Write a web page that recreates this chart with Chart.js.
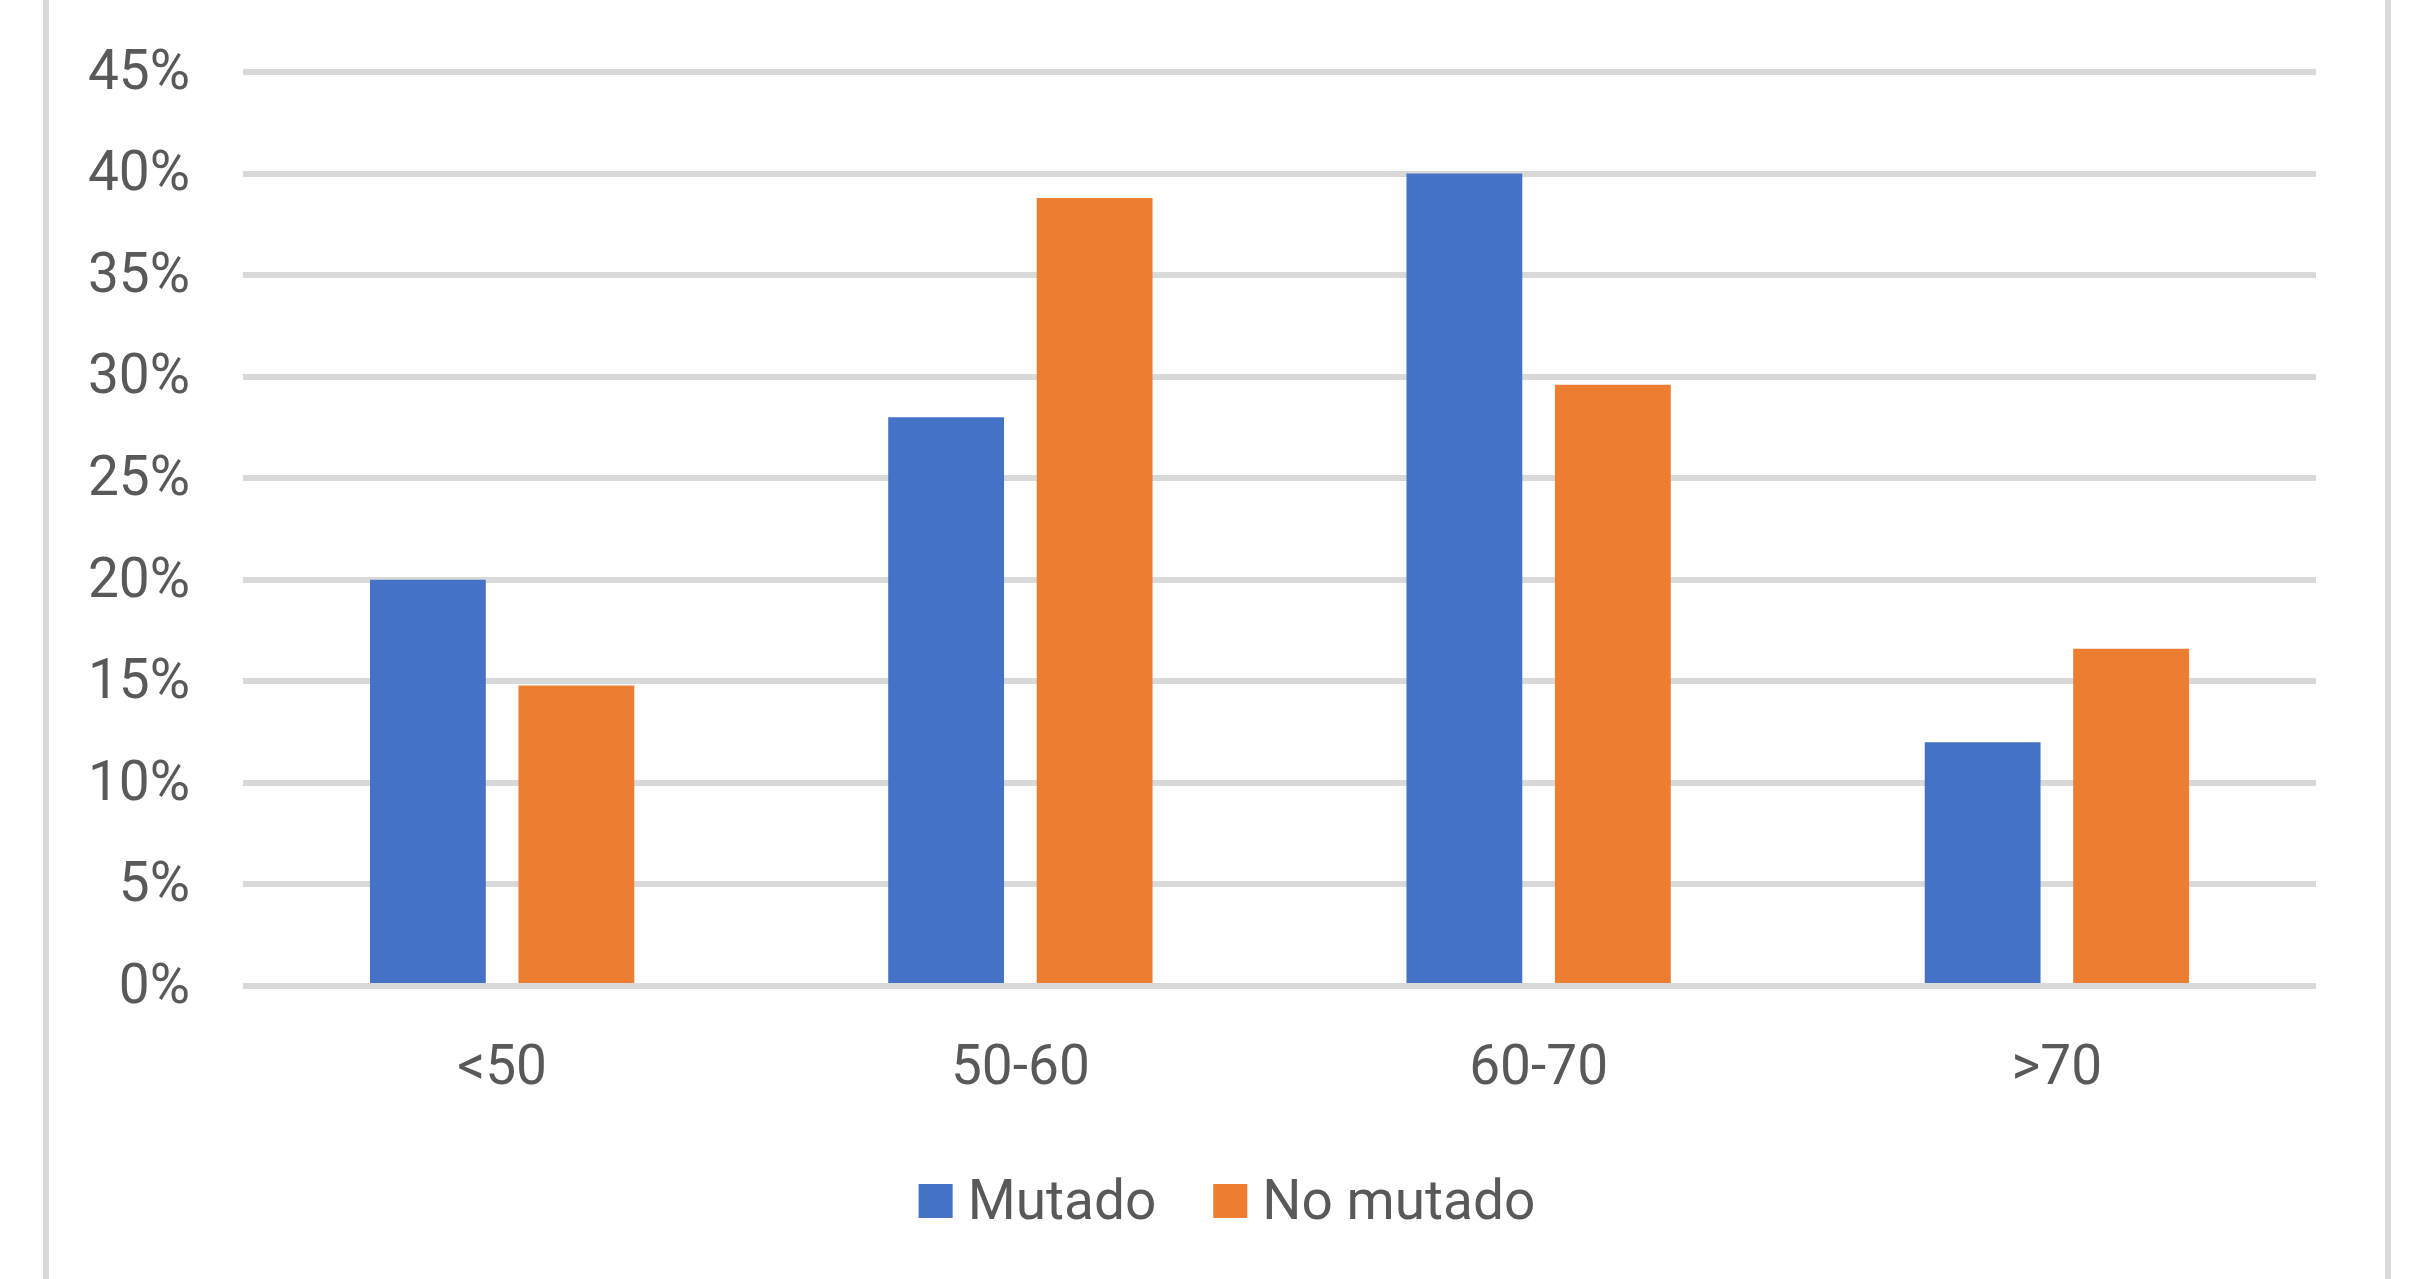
<!DOCTYPE html>
<html>
<head>
<meta charset="utf-8">
<title>Mutado / No mutado por grupo de edad</title>
<script src="https://cdn.jsdelivr.net/npm/chart.js@4/dist/chart.umd.min.js"></script>
<style>
  html, body { margin: 0; padding: 0; background: #ffffff; }
  #wrap { position: relative; width: 2418px; height: 1279px; overflow: hidden; }
  #chart { position: absolute; left: 0; top: 0; }
  .frame { position: absolute; top: 0; width: 6px; height: 1279px; background: #d9d9d9; }
</style>
</head>
<body>
<div id="wrap">
  <div class="frame" style="left:43px"></div>
  <div class="frame" style="left:2385px"></div>
  <canvas id="chart" width="2418" height="1279"></canvas>
</div>
<script>
// Age groups and share of patients in each group (%)
const ageGroups = ['<50', '50-60', '60-70', '>70'];
const mutado = [20, 28, 40, 12];
const noMutado = [14.8, 38.8, 29.6, 16.6];
const seriesNames = ['Mutado', 'No mutado'];
const yMin = 0;
const yMax = 45;
const yStep = 5;

const textColor = '#595959';
const gridColor = '#d9d9d9';
const baseFont = { family: 'Roboto', size: 55 };

// Compact legend: square swatch, small gap, then the series name
const compactLegend = {
  id: 'compactLegend',
  afterDraw(chart, args, opts) {
    const ctx = chart.ctx;
    const font = Chart.helpers.toFont(baseFont);
    ctx.save();
    ctx.font = font.string;
    ctx.textBaseline = 'middle';
    ctx.textAlign = 'left';
    const items = chart.data.datasets.map(ds => ({
      text: ds.label,
      color: ds.backgroundColor,
      w: ctx.measureText(ds.label).width
    }));
    const total = items.reduce((a, it) => a + opts.box + opts.gap + it.w, 0) + opts.spacing * (items.length - 1);
    let x = opts.centerX - total / 2;
    const y = opts.centerY;
    items.forEach(it => {
      ctx.fillStyle = it.color;
      ctx.fillRect(x, y - opts.box / 2, opts.box, opts.box);
      ctx.fillStyle = textColor;
      ctx.fillText(it.text, x + opts.box + opts.gap, y + opts.textShift);
      x += opts.box + opts.gap + it.w + opts.spacing;
    });
    ctx.restore();
  }
};

new Chart(document.getElementById('chart'), {
  type: 'bar',
  data: {
    labels: ageGroups,
    datasets: [
      { label: seriesNames[0], data: mutado, backgroundColor: '#4472C4', borderWidth: 0 },
      { label: seriesNames[1], data: noMutado, backgroundColor: '#ED7D31', borderWidth: 0 }
    ]
  },
  plugins: [compactLegend],
  options: {
    responsive: false,
    animation: false,
    devicePixelRatio: 1,
    categoryPercentage: 0.573,
    barPercentage: 0.78,
    layout: { padding: { left: 0, right: 102, top: 72, bottom: 163 } },
    plugins: {
      tooltip: { enabled: false },
      legend: { display: false },
      compactLegend: { centerX: 1227, centerY: 1201, textShift: 4, box: 34, gap: 15, spacing: 57 }
    },
    scales: {
      x: {
        grid: { display: false, drawTicks: false },
        border: { display: false },
        ticks: { color: textColor, font: baseFont, padding: 51 },
        afterFit: (s) => { s.height = 130; }
      },
      y: {
        min: yMin,
        max: yMax,
        grid: { color: gridColor, lineWidth: 6, drawTicks: false },
        border: { display: false },
        ticks: {
          stepSize: yStep,
          color: textColor,
          font: baseFont,
          padding: 53,
          labelOffset: 3,
          callback: (v) => v + '%'
        },
        afterFit: (s) => {
          s.width = 243;
          // tick labels fit inside the top padding; don't reserve extra room
          s.paddingTop = 0;
          s.paddingBottom = 0;
        }
      }
    }
  }
});
</script>
</body>
</html>
